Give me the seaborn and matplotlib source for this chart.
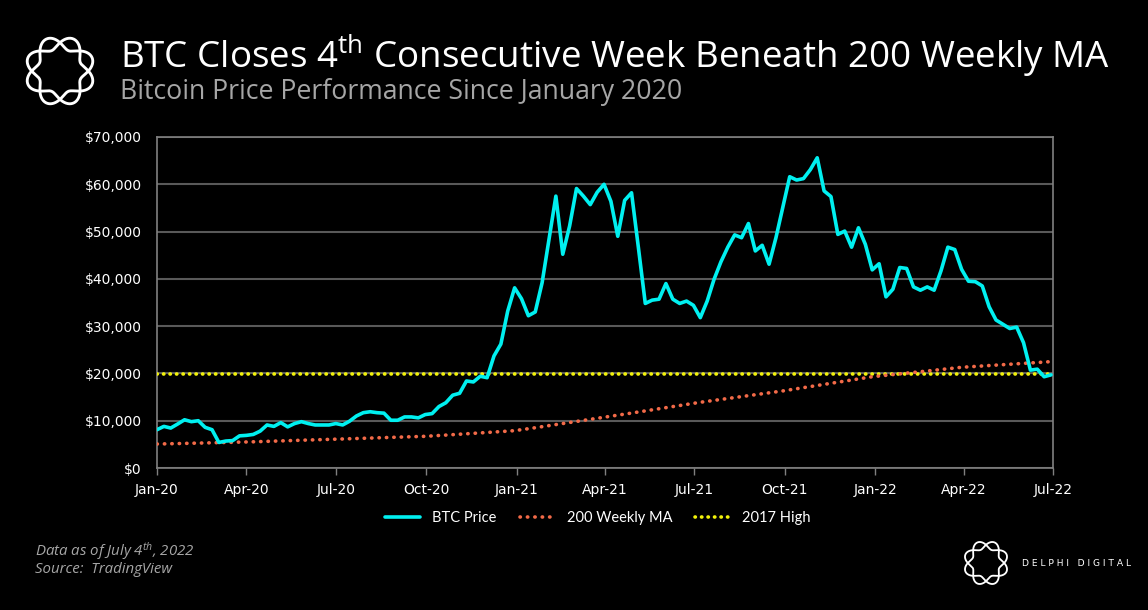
import numpy as np
import pandas as pd
import matplotlib
matplotlib.use("Agg")
import matplotlib.pyplot as plt
import matplotlib.dates as mdates
from matplotlib.ticker import FuncFormatter, MultipleLocator
import seaborn as sns

# weekly BTC closes
btc_price = [8100, 8800, 8450, 9300, 10200, 9800, 10000, 8600, 8100, 5400,
             5700, 5800, 6800, 6900, 7100, 7800, 9100, 8800, 9600, 8700,
             9400, 9800, 9400, 9100, 9100, 9100, 9400, 9100, 9900, 11000,
             11700, 11900, 11700, 11600, 10100, 10100, 10800, 10800, 10600, 11300,
             11500, 13000, 13800, 15400, 15800, 18400, 18200, 19400, 19100, 23700,
             26200, 33200, 38100, 35800, 32200, 33000, 39200, 48300, 57500, 45200,
             51200, 59100, 57500, 55700, 58300, 60000, 56400, 49000, 56600, 58200,
             46600, 34800, 35500, 35700, 39000, 35700, 34800, 35300, 34400, 31800,
             35300, 39900, 43600, 46700, 49300, 48700, 51700, 45900, 47100, 43100,
             48700, 55200, 61600, 60900, 61200, 63100, 65600, 58600, 57400, 49400,
             50100, 46700, 50800, 47300, 41900, 43200, 36200, 37800, 42400, 42200,
             38300, 37600, 38300, 37600, 41700, 46700, 46200, 42000, 39500, 39400,
             38500, 34100, 31300, 30400, 29500, 29800, 26500, 20700, 20900, 19300,
             19700]

# 200 weekly moving average
ma_200w = [5070, 5100, 5130, 5170, 5200, 5240, 5270, 5300, 5340, 5370, 5400, 5440, 5470,
           5500, 5540, 5590, 5640, 5680, 5730, 5780, 5820, 5870, 5920, 5960, 6010, 6060,
           6100, 6140, 6190, 6240, 6280, 6330, 6380, 6420, 6470, 6520, 6560, 6610, 6660,
           6700, 6780, 6870, 6960, 7050, 7140, 7230, 7320, 7410, 7500, 7600, 7700, 7800,
           7900, 8100, 8300, 8520, 8740, 8960, 9180, 9400, 9620, 9840, 10060, 10280, 10500,
           10700, 10930, 11160, 11390, 11620, 11850, 12080, 12310, 12540, 12770, 13000, 13240, 13480,
           13700, 13900, 14100, 14300, 14500, 14700, 14900, 15100, 15300, 15500, 15700, 15900, 16100,
           16300, 16530, 16760, 16990, 17220, 17450, 17680, 17910, 18140, 18370, 18600, 18840, 19080,
           19300, 19450, 19600, 19760, 19910, 20060, 20220, 20370, 20520, 20680, 20830, 20990, 21150,
           21300, 21390, 21480, 21570, 21660, 21750, 21840, 21930, 22020, 22110, 22200, 22300, 22400, 22500]

high_2017 = 19800

dates = pd.date_range("2020-01-01", periods=len(btc_price), freq="7D")
df = pd.DataFrame({"date": dates, "btc": btc_price, "ma": ma_200w,
                   "high": [high_2017] * len(btc_price)})

sns.set_theme(style="dark")
plt.rcParams["font.family"] = ["DejaVu Sans"]
plt.rcParams["mathtext.fontset"] = "custom"
plt.rcParams["mathtext.rm"] = "Open Sans"
plt.rcParams["mathtext.it"] = "Open Sans:italic"

BG = "black"
fig = plt.figure(figsize=(11.48, 6.1), dpi=100, facecolor=BG)
ax = fig.add_axes([157 / 1148, 1 - 468 / 610, (1053 - 157) / 1148, (468 - 137) / 610])
ax.set_facecolor(BG)

sns.lineplot(data=df, x="date", y="high", ax=ax, color="#f2f20a", lw=2.6,
             linestyle=(0, (0.1, 1.7)), dash_capstyle="round", label="2017 High", zorder=3)
sns.lineplot(data=df, x="date", y="ma", ax=ax, color="#f26a48", lw=2.6,
             linestyle=(0, (0.1, 1.95)), dash_capstyle="round", label="200 Weekly MA", zorder=4)
sns.lineplot(data=df, x="date", y="btc", ax=ax, color="#00f0f0", lw=2.6,
             label="BTC Price", zorder=5)

ax.set_xlim(pd.Timestamp("2020-01-01"), pd.Timestamp("2022-07-01"))
ax.set_ylim(0, 70000)
ax.yaxis.set_major_locator(MultipleLocator(10000))
ax.yaxis.set_major_formatter(FuncFormatter(lambda v, p: f"${v:,.0f}"))
ax.xaxis.set_major_locator(mdates.MonthLocator(bymonth=[1, 4, 7, 10]))
ax.xaxis.set_major_formatter(mdates.DateFormatter("%b-%y"))
ax.grid(axis="y", color="#595959", lw=1.5)
ax.grid(axis="x", visible=False)
for s in ax.spines.values():
    s.set_visible(True)
    s.set_color("#808080")
    s.set_linewidth(1.2)
ax.tick_params(axis="x", colors="white", labelsize=10, length=5, width=1,
               color="#808080", direction="out", pad=6, bottom=True)
ax.tick_params(axis="y", colors="white", labelsize=10, length=0, pad=11)
ax.set_xlabel("")
ax.set_ylabel("")

h, l = ax.get_legend_handles_labels()
order = [2, 1, 0]
leg = fig.legend([h[i] for i in order], [l[i] for i in order], loc="center",
                 bbox_to_anchor=(598 / 1148, 1 - 518 / 610), ncol=3, frameon=False,
                 labelcolor="white", handlelength=2.4, columnspacing=1.6,
                 prop={"family": "Lato", "size": 10.5})
if ax.get_legend():
    ax.get_legend().remove()

# titles
fig.text(120 / 1148, 1 - 68 / 610, r"BTC Closes 4$^{\mathrm{th}}$ Consecutive Week Beneath 200 Weekly MA",
         color="white", fontsize=26.5, family="Open Sans", va="baseline", ha="left")
fig.text(120 / 1148, 1 - 99 / 610, "Bitcoin Price Performance Since January 2020",
         color="#a6a6a6", fontsize=19.2, family="Open Sans", va="baseline", ha="left")

# footer
fig.text(35 / 1148, 1 - 556 / 610, r"Data as of July 4$^{\mathit{th}}$, 2022", color="#a6a6a6",
         fontsize=10.8, family="Open Sans", style="italic", va="baseline")
fig.text(35 / 1148, 1 - 573 / 610, "Source:  TradingView", color="#a6a6a6",
         fontsize=10.8, family="Open Sans", style="italic", va="baseline")


def draw_logo(cx, cy, size):
    la = fig.add_axes([(cx - size / 2) / 1148, 1 - (cy + size / 2) / 610, size / 1148, size / 610])
    la.set_axis_off()
    la.set_xlim(-1.1, 1.1)
    la.set_ylim(-1.1, 1.1)
    t = np.linspace(0, 2 * np.pi, 400)
    for sgn in (1, -1):
        r = 0.8 + sgn * 0.18 * np.sin(4 * t)
        la.plot(r * np.cos(t), r * np.sin(t), color="white", lw=size / 38)


draw_logo(60, 71, 78)
draw_logo(986, 563, 50)
fig.text(1022 / 1148, 1 - 563 / 610, "D E L P H I   D I G I T A L", color="white",
         fontsize=6.6, family="DejaVu Sans", va="center", ha="left")

fig.savefig("out.png", dpi=100, facecolor=BG)
